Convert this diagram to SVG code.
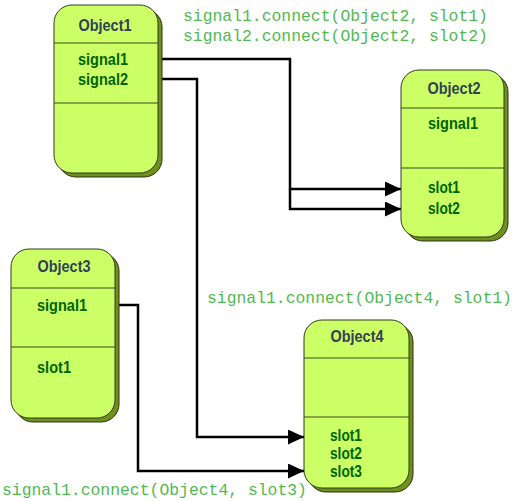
<svg xmlns="http://www.w3.org/2000/svg" width="516" height="501" viewBox="0 0 516 501">
<style>
.shadow{fill:#6f8f1f;stroke:#2a3310;stroke-width:1}
.body{fill:#ccff66;stroke:#333a22;stroke-width:1}
.sep{stroke:#3a4a1a;stroke-width:1.2}
.title{font-family:"Liberation Sans",Arial,sans-serif;font-weight:bold;font-size:17px;fill:#333f55;text-anchor:middle}
.mem{font-family:"Liberation Sans",Arial,sans-serif;font-weight:bold;font-size:17px;fill:#006400}
.code{font-family:"Liberation Mono","Courier New",monospace;font-size:16.4px;fill:#52b852}
.conn{fill:none;stroke:#000;stroke-width:2.5}
</style>
<defs>
<marker id="arr" markerUnits="userSpaceOnUse" markerWidth="17" markerHeight="17" refX="16" refY="7.5" orient="auto">
<path d="M0,0 L16,7.5 L0,15 z" fill="#000"/>
</marker>
</defs>
<g id="connectors">
<path class="conn" d="M158,59 H290 V189 H401" marker-end="url(#arr)"/>
<path class="conn" d="M290,189 V209 H401" marker-end="url(#arr)"/>
<path class="conn" d="M158,79 H197 V437 H304" marker-end="url(#arr)"/>
<path class="conn" d="M115,305 H138 V471 H304" marker-end="url(#arr)"/>
</g>
<g id="Object1">
<rect class="shadow" x="58" y="9" width="104" height="168" rx="18"/>
<rect class="body" x="54" y="5" width="104" height="168" rx="18"/>
<line class="sep" x1="54" y1="43" x2="158" y2="43"/>
<line class="sep" x1="54" y1="103" x2="158" y2="103"/>
<text class="title" x="105" y="31" textLength="53" lengthAdjust="spacingAndGlyphs">Object1</text>
<text class="mem" x="78" y="65" textLength="50" lengthAdjust="spacingAndGlyphs">signal1</text>
<text class="mem" x="78" y="85" textLength="50" lengthAdjust="spacingAndGlyphs">signal2</text>
</g>
<g id="Object2">
<rect class="shadow" x="405" y="74" width="103" height="167" rx="18"/>
<rect class="body" x="401" y="70" width="103" height="167" rx="18"/>
<line class="sep" x1="401" y1="108" x2="504" y2="108"/>
<line class="sep" x1="401" y1="168" x2="504" y2="168"/>
<text class="title" x="454" y="94" textLength="53" lengthAdjust="spacingAndGlyphs">Object2</text>
<text class="mem" x="428" y="129" textLength="50" lengthAdjust="spacingAndGlyphs">signal1</text>
<text class="mem" x="428" y="193" textLength="32" lengthAdjust="spacingAndGlyphs">slot1</text>
<text class="mem" x="428" y="214" textLength="32" lengthAdjust="spacingAndGlyphs">slot2</text>
</g>
<g id="Object3">
<rect class="shadow" x="15" y="253" width="104" height="169" rx="18"/>
<rect class="body" x="11" y="249" width="104" height="169" rx="18"/>
<line class="sep" x1="11" y1="288" x2="115" y2="288"/>
<line class="sep" x1="11" y1="347" x2="115" y2="347"/>
<text class="title" x="64" y="272" textLength="53" lengthAdjust="spacingAndGlyphs">Object3</text>
<text class="mem" x="37" y="311" textLength="50" lengthAdjust="spacingAndGlyphs">signal1</text>
<text class="mem" x="37" y="373" textLength="34" lengthAdjust="spacingAndGlyphs">slot1</text>
</g>
<g id="Object4">
<rect class="shadow" x="308" y="324" width="105" height="168" rx="18"/>
<rect class="body" x="304" y="320" width="105" height="168" rx="18"/>
<line class="sep" x1="304" y1="358" x2="409" y2="358"/>
<line class="sep" x1="304" y1="417" x2="409" y2="417"/>
<text class="title" x="357" y="342" textLength="53" lengthAdjust="spacingAndGlyphs">Object4</text>
<text class="mem" x="330" y="441" textLength="32" lengthAdjust="spacingAndGlyphs">slot1</text>
<text class="mem" x="330" y="459" textLength="32" lengthAdjust="spacingAndGlyphs">slot2</text>
<text class="mem" x="330" y="477" textLength="32" lengthAdjust="spacingAndGlyphs">slot3</text>
</g>
<g id="labels">
<text class="code" x="183" y="21">signal1.connect(Object2, slot1)</text>
<text class="code" x="183" y="41">signal2.connect(Object2, slot2)</text>
<text class="code" x="207" y="303">signal1.connect(Object4, slot1)</text>
<text class="code" x="2" y="495">signal1.connect(Object4, slot3)</text>
</g>
</svg>
